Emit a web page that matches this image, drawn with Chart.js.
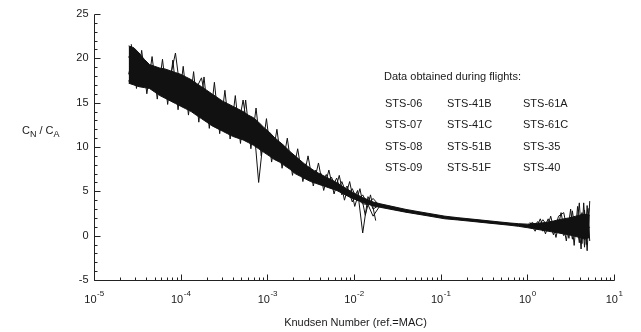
<!DOCTYPE html>
<html>
<head>
<meta charset="utf-8">
<script src="https://cdn.jsdelivr.net/npm/chart.js@4.4.1/dist/chart.umd.min.js"></script>
<style>
  html, body { margin: 0; padding: 0; background: #fff; }
  #wrap { position: relative; width: 641px; height: 332px; }
  canvas { display: block; }
</style>
</head>
<body>
<div id="wrap"><canvas id="c" width="641" height="332"></canvas></div>
<script>
// ---------- DATA ----------
// Knudsen numbers (shared sampling of the flight records)
const knudsen = [
  2.51e-5, 2.88e-5, 3.31e-5, 3.80e-5, 4.37e-5, 5.01e-5, 5.75e-5, 6.61e-5, 7.59e-5, 8.71e-5,
  1.00e-4, 1.15e-4, 1.32e-4, 1.51e-4, 1.74e-4, 2.00e-4, 2.29e-4, 2.63e-4, 3.02e-4, 3.47e-4,
  3.98e-4, 4.57e-4, 5.25e-4, 6.03e-4, 6.92e-4, 7.94e-4, 9.12e-4, 1.05e-3, 1.20e-3, 1.38e-3,
  1.58e-3, 1.82e-3, 2.09e-3, 2.40e-3, 2.75e-3, 3.16e-3, 3.63e-3, 4.17e-3, 4.79e-3, 5.50e-3,
  6.31e-3, 7.24e-3, 8.32e-3, 9.55e-3, 1.10e-2, 1.26e-2, 1.45e-2, 1.66e-2, 2.00e-2, 2.82e-2,
  3.98e-2, 5.62e-2, 7.94e-2, 0.112, 0.158, 0.224, 0.316, 0.447, 0.631, 0.794,
  1.00, 1.15, 1.32, 1.51, 1.74, 2.00, 2.29, 2.63, 3.02, 3.31,
  3.63, 3.98, 4.27, 4.57, 4.90, 5.25
];

// dense scatter envelope of CN/CA (upper / lower edge of the black band)
const bandUpper = [
  21.4, 21.2, 20.6, 19.9, 19.3, 19.1, 18.9, 18.8, 18.6, 18.4,
  18.2, 17.9, 17.6, 17.2, 16.8, 16.4, 16.0, 15.6, 15.2, 14.9,
  14.6, 14.3, 14.0, 13.6, 13.3, 12.8, 12.2, 11.7, 11.1, 10.6,
  10.1, 9.5, 9.0, 8.5, 8.0, 7.6, 7.2, 6.9, 6.6, 6.3,
  6.0, 5.6, 5.25, 4.9, 4.6, 4.3, 4.05, 3.8, 3.6, 3.28,
  2.96, 2.7, 2.45, 2.2, 2.03, 1.88, 1.73, 1.58, 1.43, 1.35,
  1.3, 1.35, 1.4, 1.45, 1.55, 1.65, 1.8, 1.9, 2.0, 2.1,
  2.2, 2.3, 2.4, 2.4, 2.4, 2.3
];
const bandLower = [
  17.2, 17.0, 16.8, 16.7, 16.6, 16.2, 15.8, 15.5, 15.2, 14.9,
  14.6, 14.3, 14.0, 13.6, 13.2, 12.8, 12.4, 12.1, 11.8, 11.5,
  11.2, 11.0, 10.8, 10.5, 10.2, 9.8, 9.4, 9.0, 8.6, 8.3,
  7.9, 7.5, 7.0, 6.7, 6.4, 6.1, 5.9, 5.7, 5.5, 5.3,
  5.1, 4.8, 4.5, 4.2, 4.0, 3.75, 3.55, 3.35, 3.2, 2.92,
  2.64, 2.4, 2.15, 1.9, 1.77, 1.62, 1.47, 1.32, 1.17, 1.05,
  0.9, 0.8, 0.7, 0.6, 0.5, 0.4, 0.3, 0.2, 0.1, 0.0,
  -0.1, -0.2, -0.3, -0.3, -0.3, -0.2
];

// individual noisy traces
const traceC = [
  20.2, 19.0, 20.4, 18.2, 19.1, 17.6, 18.4, 17.0, 17.9, 20.6,
  16.0, 17.2, 15.2, 16.6, 17.8, 14.6, 15.6, 13.4, 14.8, 12.6,
  14.0, 12.0, 15.3, 11.4, 12.9, 6.0, 11.5, 9.6, 10.9, 8.7,
  9.9, 7.8, 9.0, 6.9, 8.1, 6.2, 7.4, 5.8, 6.9, 5.3,
  6.5, 4.6, 5.6, 3.8, 5.1, 0.3, 4.4, 3.0, 3.5, 3.15,
  2.85, 2.6, 2.35, 2.1, 1.95, 1.8, 1.65, 1.5, 1.35, 1.25,
  1.15, 0.8, 1.6, 0.5, 1.9, 0.1, 2.2, 2.6, -0.3, 2.8,
  0.0, 3.7, -0.9, 2.9, -1.7, 3.9
];
const traceD = [
  18.2, 20.6, 18.0, 19.4, 17.2, 18.6, 17.0, 18.3, 16.4, 17.6,
  15.4, 16.9, 15.0, 16.0, 14.2, 15.5, 13.3, 14.7, 12.6, 14.1,
  12.0, 13.6, 11.6, 13.0, 11.0, 12.1, 10.0, 11.2, 9.0, 10.2,
  8.4, 9.3, 7.3, 8.5, 6.7, 7.5, 6.2, 7.0, 5.6, 6.6,
  5.1, 6.1, 4.5, 5.3, 3.9, 4.6, 3.5, 4.2, 3.3, 3.0,
  2.7, 2.5, 2.25, 2.0, 1.85, 1.7, 1.55, 1.4, 1.25, 1.15,
  1.05, 1.4, 0.7, 1.3, 0.6, 1.6, 0.4, 1.0, 1.9, -0.4,
  2.1, -0.8, 2.6, -1.3, 3.4, -0.6
];
const traceE = [
  17.4, 18.6, 17.1, 17.8, 16.7, 17.2, 16.2, 16.8, 15.6, 16.3,
  14.9, 15.8, 14.3, 15.2, 13.6, 14.4, 12.9, 13.6, 12.2, 13.1,
  11.6, 12.4, 11.0, 11.9, 10.5, 11.0, 9.6, 10.0, 8.9, 9.1,
  8.1, 8.6, 7.4, 7.8, 6.9, 7.1, 6.0, 6.6, 5.8, 5.7,
  5.4, 5.0, 4.7, 4.4, 4.1, 3.6, 3.5, 2.2, 3.4, 3.05,
  2.75, 2.55, 2.3, 2.05, 1.9, 1.75, 1.6, 1.45, 1.3, 1.2,
  1.1, 1.5, 0.9, 1.8, 1.0, 0.5, 1.7, 0.0, 1.5, 0.3,
  1.9, -0.3, 1.7, -0.5, 1.2, 0.9
];

// high-frequency spikes in the rarefied / transitional region
const spikeKnudsen = [
  2.69e-5, 3.09e-5, 3.55e-5, 4.07e-5, 4.68e-5, 5.37e-5, 6.17e-5, 7.08e-5, 8.13e-5, 9.33e-5,
  1.07e-4, 1.23e-4, 1.41e-4, 1.62e-4, 1.86e-4, 2.14e-4, 2.45e-4, 2.82e-4, 3.24e-4, 3.72e-4,
  4.27e-4, 4.90e-4, 5.62e-4, 6.46e-4, 7.41e-4, 8.51e-4, 9.77e-4, 1.12e-3, 1.29e-3, 1.48e-3,
  1.70e-3, 1.95e-3, 2.24e-3, 2.57e-3, 2.95e-3, 3.39e-3, 3.89e-3, 4.47e-3, 5.13e-3, 5.89e-3,
  6.76e-3, 7.76e-3, 8.91e-3, 1.02e-2, 1.17e-2, 1.35e-2, 1.55e-2, 1.78e-2
];
const spikeValues = [
  21.6, 16.6, 20.9, 16.0, 20.2, 15.4, 19.9, 14.8, 19.8, 14.2,
  19.1, 13.6, 18.5, 12.8, 17.9, 12.1, 17.3, 11.5, 16.4, 10.9,
  15.8, 10.4, 15.3, 9.8, 14.4, 9.0, 13.2, 8.3, 12.0, 7.6,
  11.0, 6.8, 9.8, 6.1, 9.0, 5.6, 8.2, 5.1, 7.4, 4.7,
  6.8, 4.0, 6.1, 3.3, 5.3, 2.3, 4.6, 1.7
];

// noisy free-molecular end of the records
const endKnudsen = [1.07, 1.23, 1.41, 1.62, 1.86, 2.14, 2.45, 2.82, 3.16, 3.47, 3.80, 4.17, 4.47, 4.79, 5.13];
const endValues = [1.5, 0.5, 1.9, 0.2, 2.2, -0.2, 2.6, -0.6, 3.0, -1.1, 3.3, -1.5, 3.7, -1.0, 3.1];

const yTickValues = [-5, 0, 5, 10, 15, 20, 25];
const xTickExponents = [-5, -4, -3, -2, -1, 0, 1];
const flightColumns = [
  ["STS-06", "STS-07", "STS-08", "STS-09"],
  ["STS-41B", "STS-41C", "STS-51B", "STS-51F"],
  ["STS-61A", "STS-61C", "STS-35", "STS-40"]
];
const legendTitle = "Data obtained during flights:";
const xTitle = "Knudsen Number (ref.=MAC)";

// ---------- CHART ----------
const INK = '#111';
const pts = (xs, ys) => xs.map((k, i) => ({ x: k, y: ys[i] }));
const lineDs = (data, extra) => Object.assign({
  data, borderColor: INK, borderWidth: 1, pointRadius: 0, tension: 0, fill: false
}, extra || {});

const datasets = [
  lineDs(pts(knudsen, bandUpper)),
  lineDs(pts(knudsen, bandLower), { fill: '-1', backgroundColor: INK }),
  lineDs(pts(knudsen, traceC)),
  lineDs(pts(knudsen, traceD)),
  lineDs(pts(knudsen, traceE)),
  lineDs(pts(spikeKnudsen, spikeValues)),
  lineDs(pts(endKnudsen, endValues))
];

const FONT = '"Liberation Sans", Arial, Helvetica, sans-serif';
const TXT = '#1a1a1a';

const axesPlugin = {
  id: 'axesPlugin',
  afterDraw(chart) {
    const ctx = chart.ctx;
    const xs = chart.scales.x, ys = chart.scales.y;
    const xL = Math.round(xs.getPixelForValue(1e-5)) + 0.5;
    const xR = Math.round(xs.getPixelForValue(10)) + 0.5;
    const yT = Math.round(ys.getPixelForValue(25)) + 0.5;
    const yB = Math.round(ys.getPixelForValue(-5)) + 0.5;
    ctx.save();
    ctx.strokeStyle = '#222';
    ctx.lineWidth = 1;
    ctx.beginPath();
    ctx.moveTo(xL, yT); ctx.lineTo(xL, yB); ctx.lineTo(xR, yB);
    ctx.stroke();
    ctx.beginPath();
    for (let v = -5; v <= 25; v++) {
      const y = Math.round(ys.getPixelForValue(v)) + 0.5;
      const len = (v % 5 === 0) ? 6 : 3;
      ctx.moveTo(xL, y); ctx.lineTo(xL + len, y);
    }
    for (let e = -5; e <= 1; e++) {
      for (let m = 1; m <= 9; m++) {
        if (e === 1 && m > 1) break;
        const x = Math.round(xs.getPixelForValue(m * Math.pow(10, e))) + 0.5;
        const len = (m === 1) ? 6 : 3;
        ctx.moveTo(x, yB); ctx.lineTo(x, yB - len);
      }
    }
    ctx.stroke();

    ctx.fillStyle = TXT;
    ctx.font = '11px ' + FONT;
    ctx.textAlign = 'right';
    ctx.textBaseline = 'middle';
    yTickValues.forEach(v => {
      ctx.fillText(String(v), xL - 6, ys.getPixelForValue(v));
    });
    ctx.textBaseline = 'alphabetic';
    xTickExponents.forEach(e => {
      const x = xs.getPixelForValue(Math.pow(10, e));
      ctx.font = '11px ' + FONT;
      const wb = ctx.measureText('10').width;
      ctx.font = '8px ' + FONT;
      const ex = String(e);
      const we = ctx.measureText(ex).width;
      const start = x - (wb + we) / 2;
      ctx.textAlign = 'left';
      ctx.font = '11px ' + FONT;
      ctx.fillText('10', start, yB + 22);
      ctx.font = '8px ' + FONT;
      ctx.fillText(ex, start + wb + 0.5, yB + 15);
    });
    ctx.font = '11px ' + FONT;
    ctx.textAlign = 'center';
    ctx.fillText(xTitle, (xL + xR) / 2 + 1, yB + 45);

    ctx.textAlign = 'left';
    let px = 22, py = 134;
    ctx.font = '11px ' + FONT;
    ctx.fillText('C', px, py); px += ctx.measureText('C').width;
    ctx.font = '9px ' + FONT;
    ctx.fillText('N', px, py + 3); px += ctx.measureText('N').width;
    ctx.font = '11px ' + FONT;
    ctx.fillText(' / C', px, py); px += ctx.measureText(' / C').width;
    ctx.font = '9px ' + FONT;
    ctx.fillText('A', px, py + 3);

    ctx.font = '11px ' + FONT;
    ctx.textAlign = 'left';
    ctx.fillText(legendTitle, 384, 80);
    const colX = [385, 447, 523];
    const rowY = [107, 128, 150, 171];
    flightColumns.forEach((col, ci) => {
      col.forEach((name, ri) => {
        ctx.fillText(name, colX[ci], rowY[ri]);
      });
    });
    ctx.restore();
  }
};

new Chart(document.getElementById('c'), {
  type: 'line',
  data: { datasets },
  options: {
    responsive: false,
    animation: false,
    devicePixelRatio: 1,
    layout: { padding: { left: 94, right: 27, top: 14, bottom: 52 } },
    plugins: { legend: { display: false }, tooltip: { enabled: false }, title: { display: false } },
    scales: {
      x: { type: 'logarithmic', min: 1e-5, max: 10, display: false },
      y: { type: 'linear', min: -5, max: 25, display: false }
    }
  },
  plugins: [axesPlugin]
});
</script>
</body>
</html>
